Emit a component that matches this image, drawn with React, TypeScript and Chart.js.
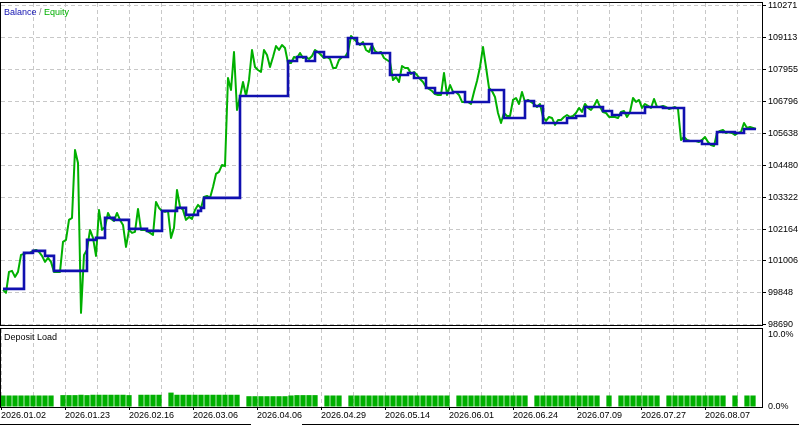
import React, { useEffect, useRef } from 'react';
import { Chart, registerables } from 'chart.js';

Chart.register(...registerables);

// Equity, sampled evenly along the test (oldest -> newest)
const equity: number[] = [
  99954, 99846, 100608, 100644, 100426, 100608, 101225, 101261, 101298, 101298,
  101370, 101407, 101334, 101189, 100971, 101116, 100971, 100608, 100608, 100608,
  101697, 101770, 102496, 102568, 105037, 104565, 99120, 101225, 101407, 102133,
  101842, 101189, 102859, 102133, 102241, 102749, 102532, 102459, 102749, 102496,
  102314, 101515, 102133, 102024, 102060, 102895, 102133, 102133, 102096, 102024,
  101951, 103149, 102931, 102822, 102786, 102822, 101842, 102205, 103585, 102968,
  102859, 102496, 102604, 102532, 102859, 103040, 102931, 103330, 103367, 103294,
  103693, 104165, 104238, 104492, 104456, 107650, 107215, 108594, 106489, 106960,
  107505, 106997, 107578, 108667, 108049, 107941, 107868, 108667, 108485, 108049,
  108412, 108812, 108667, 108848, 108739, 108195, 108195, 108412, 108376, 108558,
  108376, 108412, 108340, 108449, 108667, 108594, 108485, 108376, 108412, 108340,
  108013, 108013, 108304, 108412, 108412, 108594, 109175, 109066, 108957, 108848,
  108957, 108667, 108594, 108848, 108630, 108558, 108594, 108376, 108304, 108231,
  107578, 107687, 107505, 108086, 108013, 108013, 107795, 107868, 107759, 107614,
  107505, 107324, 107251, 107178, 107070, 107033, 107033, 107832, 107033, 107396,
  107142, 107142, 107033, 106779, 106779, 106779, 106706, 107142, 107541, 108049,
  108775, 108049, 107287, 107178, 106960, 106380, 106017, 106380, 106271, 106271,
  106852, 106924, 106706, 107142, 106779, 106852, 106779, 106706, 106597, 106706,
  106234, 106089, 106234, 106198, 105944, 106126, 106126, 106234, 106307, 106234,
  106271, 106380, 106561, 106416, 106706, 106561, 106489, 106634, 106852, 106597,
  106416, 106380, 106234, 106234, 106234, 106198, 106416, 106452, 106234, 106416,
  106924, 106779, 106852, 106561, 106706, 106634, 106561, 106888, 106597, 106597,
  106634, 106597, 106525, 106561, 106597, 106525, 105400, 105508, 105400, 105363,
  105363, 105363, 105327, 105400, 105508, 105327, 105218, 105182, 105654, 105726,
  105763, 105654, 105690, 105654, 105581, 105654, 105690, 106017, 105835, 105872,
  105835, 105799,
];

// Balance levels and how many equity samples each level lasts
const balanceLevels: number[] = [
  99991, 101298, 101370, 101189, 100644, 101770, 101842, 102568, 102496, 102169,
  102096, 102822, 102931, 102677, 102822, 102931, 103294, 106997, 108267, 108412,
  108267, 108594, 108412, 109102, 108884, 108558, 107759, 107832, 107650, 107287,
  107106, 107142, 106779, 107215, 106198, 106815, 106634, 106017, 106198, 106271,
  106597, 106452, 106307, 106380, 106597, 106561, 105363, 105254, 105690, 105654,
  105799,
];
const balanceRuns: number[] = [
  7, 3, 4, 3, 11, 3, 3, 3, 5, 6,
  5, 5, 3, 4, 1, 1, 12, 16, 3, 3,
  3, 3, 8, 3, 5, 6, 6, 2, 4, 3,
  6, 4, 8, 5, 7, 3, 3, 8, 3, 3,
  6, 3, 3, 8, 6, 7, 6, 5, 6, 3,
  5,
];

// Deposit load, % (0 = no position)
const depositLoad: number[] = [
  1.6, 1.6, 1.6, 1.6, 1.6, 1.6, 1.6, 1.6, 1.6, 0,
  1.65, 1.65, 1.65, 1.7, 1.65, 1.7, 1.7, 1.7, 1.7, 1.7,
  1.7, 1.65, 0, 1.7, 1.7, 1.7, 1.7, 0, 2.0, 1.7,
  1.7, 1.7, 1.7, 1.7, 1.7, 1.7, 1.7, 1.7, 1.7, 1.7,
  0, 1.5, 1.5, 1.5, 1.5, 1.5, 1.5, 1.5, 1.6, 1.65,
  1.65, 1.65, 1.65, 0, 1.6, 1.6, 1.6, 0, 1.6, 1.6,
  1.6, 1.6, 1.6, 1.6, 1.6, 1.6, 1.6, 1.6, 1.6, 1.6,
  1.6, 1.6, 1.6, 1.6, 1.6, 0, 1.6, 1.6, 1.6, 1.6,
  1.6, 1.6, 1.6, 1.6, 1.6, 1.6, 1.6, 1.6, 0, 1.6,
  1.6, 1.6, 1.6, 1.6, 1.6, 1.6, 1.6, 1.6, 1.6, 1.6,
  0, 1.6, 0, 1.6, 1.6, 1.6, 1.6, 1.6, 1.6, 1.6,
  0, 1.6, 1.6, 1.6, 1.6, 1.6, 1.6, 1.6, 1.6, 1.6,
  1.6, 0, 1.6, 0, 1.6, 1.6,
];

const yTickLabels: number[] = [110271, 109113, 107955, 106796, 105638, 104480, 103322, 102164, 101006, 99848, 98690];
const depositTickLabels: number[] = [0, 10];
const dateLabels: string[] = [
  '2026.01.02', '2026.01.23', '2026.02.16', '2026.03.06', '2026.04.06', '2026.04.29',
  '2026.05.14', '2026.06.01', '2026.06.24', '2026.07.09', '2026.07.27', '2026.08.07',
];

const FONT = "'Liberation Sans', Arial, sans-serif";
const GRID = '#c8c8c8';
const DASH = [4, 3];
const BLUE = '#1010b0';
const GREEN = '#00b000';

const W = 799;
const PLOT_RIGHT = 762;
const GRID_PX = 32;

const framePlugin = {
  id: 'frame',
  afterDraw(chart: any) {
    const { ctx, chartArea: a } = chart;
    ctx.save();
    ctx.strokeStyle = '#000';
    ctx.lineWidth = 1;
    ctx.setLineDash([]);
    const l = Math.round(a.left) - 0.5;
    const t = Math.round(a.top) - 0.5;
    const r = Math.round(a.right) + 0.5;
    const b = Math.round(a.bottom) + 0.5;
    ctx.strokeRect(l, t, r - l, b - t);
    ctx.restore();
  },
};

function noPad(s: any) {
  s.paddingTop = 0;
  s.paddingBottom = 0;
  s.paddingLeft = 0;
  s.paddingRight = 0;
}

function expandBalance(): number[] {
  const out: number[] = [];
  balanceLevels.forEach((lv, i) => {
    for (let k = 0; k < balanceRuns[i]; k++) out.push(lv);
  });
  return out;
}

export default function App() {
  const mainRef = useRef<HTMLCanvasElement>(null);
  const loadRef = useRef<HTMLCanvasElement>(null);

  useEffect(() => {
    const balance = expandBalance();
    // main panel: sample i sits 3px apart, first sample 2px inside the frame
    const mainPlotW = PLOT_RIGHT - 1;
    const xMin = -2 / 3;
    const xMax = xMin + mainPlotW / 3;
    const mainStep = (xMax - xMin) * GRID_PX / mainPlotW;

    const main = new Chart(mainRef.current!, {
      type: 'line',
      data: {
        datasets: [
          {
            label: 'Balance',
            data: balance.map((y, i) => ({ x: i, y })),
            borderColor: BLUE,
            borderWidth: 2.6,
            pointRadius: 0,
            stepped: true,
            order: 0,
          },
          {
            label: 'Equity',
            data: equity.map((y, i) => ({ x: i, y })),
            borderColor: GREEN,
            borderWidth: 2,
            pointRadius: 0,
            tension: 0,
            borderJoinStyle: 'round',
            order: 1,
          },
        ],
      },
      options: {
        responsive: false,
        animation: false,
        devicePixelRatio: 1,
        events: [],
        layout: { padding: { left: 1, top: 3, right: 0, bottom: 3 } },
        plugins: { legend: { display: false }, tooltip: { enabled: false } },
        scales: {
          x: {
            type: 'linear',
            min: xMin,
            max: xMax,
            afterBuildTicks: (s: any) => {
              const t = [];
              for (let k = 1; xMin + k * mainStep < xMax; k++) t.push({ value: xMin + k * mainStep });
              s.ticks = t;
            },
            afterFit: (s: any) => { s.height = 0; noPad(s); },
            ticks: { display: false },
            grid: { color: GRID, drawTicks: false, lineWidth: 1 },
            border: { display: false, dash: DASH },
          },
          y: {
            position: 'right',
            min: 98679,
            max: 110373,
            afterBuildTicks: (s: any) => { s.ticks = yTickLabels.map((v) => ({ value: v })); },
            afterFit: (s: any) => { s.width = W - PLOT_RIGHT; noPad(s); },
            ticks: {
              autoSkip: false,
              padding: 2,
              color: '#000',
              font: { family: FONT, size: 9 },
              callback: (v: any) => String(v),
            },
            grid: { color: GRID, tickLength: 4, tickColor: '#000', tickBorderDash: [1, 0], lineWidth: 1 },
            border: { display: false, dash: DASH },
          },
        },
      },
      plugins: [framePlugin],
    } as any);

    // deposit load panel: bar j sits 6px apart
    const lMin = -1 / 3;
    const lMax = lMin + mainPlotW / 6;
    const loadStep = (lMax - lMin) * GRID_PX / mainPlotW;
    const load = new Chart(loadRef.current!, {
      type: 'bar',
      data: {
        datasets: [
          {
            label: 'Deposit Load',
            data: depositLoad.map((y, j) => ({ x: j, y })),
            backgroundColor: GREEN,
            borderWidth: 0,
            barPercentage: 0.88,
            categoryPercentage: 1,
          },
        ],
      },
      options: {
        responsive: false,
        animation: false,
        devicePixelRatio: 1,
        events: [],
        layout: { padding: { left: 1, top: 1, right: 0, bottom: 0 } },
        plugins: { legend: { display: false }, tooltip: { enabled: false } },
        scales: {
          x: {
            type: 'linear',
            offset: false,
            min: lMin,
            max: lMax,
            afterBuildTicks: (s: any) => {
              const t = [];
              for (let k = 0; lMin + k * loadStep < lMax; k++) t.push({ value: lMin + k * loadStep });
              s.ticks = t;
            },
            afterFit: (s: any) => { s.height = 19; noPad(s); },
            ticks: {
              autoSkip: false,
              maxRotation: 0,
              minRotation: 0,
              align: 'start',
              padding: 0,
              color: '#000',
              font: { family: FONT, size: 9 },
              callback: (_v: any, idx: number) => (idx % 2 === 0 ? dateLabels[idx / 2] ?? '' : ''),
            },
            grid: {
              offset: false,
              color: GRID,
              tickLength: 3,
              tickBorderDash: [1, 0],
              tickColor: (c: any) => (c.index % 2 === 0 ? '#000' : 'rgba(0,0,0,0)'),
            },
            border: { display: false, dash: DASH },
          },
          y: {
            position: 'right',
            min: 0,
            max: 10 + 6 / 7.2,
            afterBuildTicks: (s: any) => { s.ticks = depositTickLabels.map((v) => ({ value: v })); },
            afterFit: (s: any) => { s.width = W - PLOT_RIGHT; noPad(s); },
            ticks: {
              autoSkip: false,
              padding: 6,
              color: '#000',
              font: { family: FONT, size: 9 },
              callback: (v: any) => Number(v).toFixed(1) + '%',
            },
            grid: { drawOnChartArea: false, drawTicks: false },
            border: { display: false },
          },
        },
      },
      plugins: [framePlugin],
    } as any);

    return () => {
      main.destroy();
      load.destroy();
    };
  }, []);

  const label: React.CSSProperties = {
    position: 'absolute',
    fontFamily: FONT,
    fontSize: 9,
    lineHeight: '10px',
    whiteSpace: 'nowrap',
  };

  return (
    <div style={{ position: 'absolute', left: 0, top: 0, width: W, height: 426, background: '#fff', overflow: 'hidden' }}>
      <canvas ref={mainRef} width={W} height={328} style={{ position: 'absolute', left: 0, top: 0, display: 'block' }} />
      <canvas ref={loadRef} width={W} height={98} style={{ position: 'absolute', left: 0, top: 328, display: 'block' }} />
      <div style={{ ...label, left: 4, top: 7 }}>
        <span style={{ color: BLUE }}>Balance</span>
        <span style={{ color: '#808080' }}> / </span>
        <span style={{ color: GREEN }}>Equity</span>
      </div>
      <div style={{ ...label, left: 4, top: 332, color: '#000' }}>Deposit Load</div>
      <div style={{ position: 'absolute', left: 0, top: 424, width: 251, height: 1, background: '#000' }} />
      <div style={{ position: 'absolute', left: 302, top: 424, width: 497, height: 1, background: '#000' }} />
    </div>
  );
}
